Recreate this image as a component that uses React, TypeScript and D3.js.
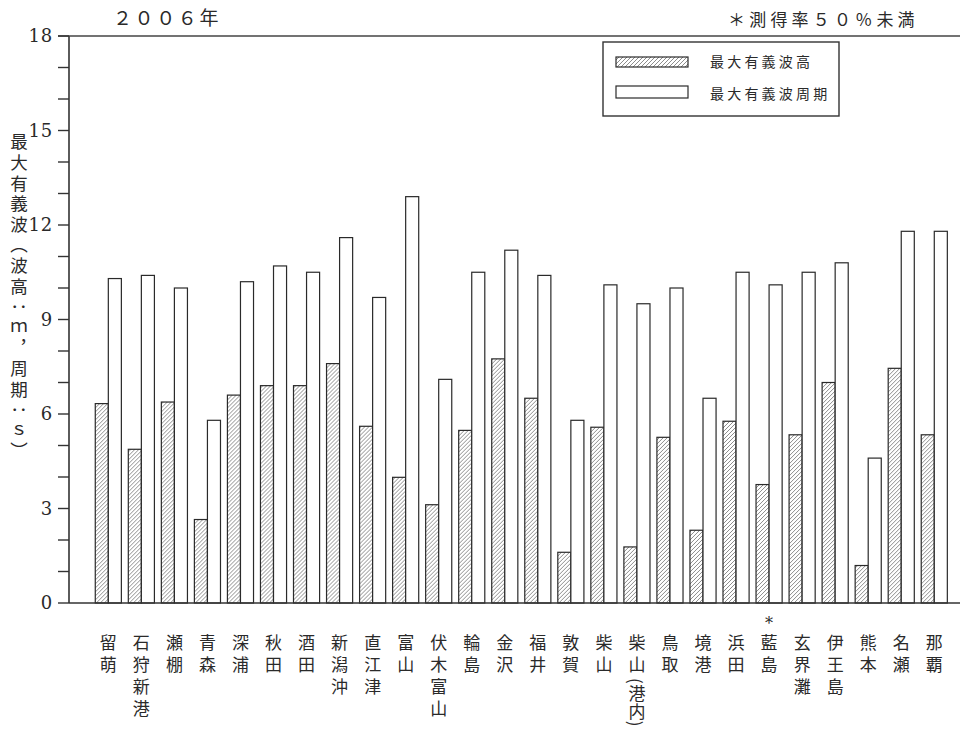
import React from 'react';
import * as d3 from 'd3';

const stations = ['留萌', '石狩新港', '瀬棚', '青森', '深浦', '秋田', '酒田', '新潟沖', '直江津', '富山', '伏木富山', '輪島', '金沢', '福井', '敦賀', '柴山', '柴山(港内)', '鳥取', '境港', '浜田', '藍島', '玄界灘', '伊王島', '熊本', '名瀬', '那覇'];
const waveHeight = [6.33, 4.88, 6.38, 2.65, 6.6, 6.9, 6.9, 7.6, 5.61, 3.99, 3.12, 5.48, 7.75, 6.5, 1.61, 5.58, 1.78, 5.26, 2.31, 5.77, 3.76, 5.34, 7.0, 1.19, 7.45, 5.34];
const wavePeriod = [10.3, 10.4, 10.0, 5.8, 10.2, 10.7, 10.5, 11.6, 9.7, 12.9, 7.1, 10.5, 11.2, 10.4, 5.8, 10.1, 9.5, 10.0, 6.5, 10.5, 10.1, 10.5, 10.8, 4.6, 11.8, 11.8];
const markedStations = ['藍島'];
const yTickLabels = [0, 3, 6, 9, 12, 15, 18];
const yMinorTicks = d3.range(0, 19, 1);
const seriesKeys = ['height', 'period'];
const seriesNames = ['最大有義波高', '最大有義波周期'];
const titleText = '２００６年';
const noteText = '＊測得率５０％未満';
const yAxisTitle = '最大有義波（波高：ｍ，周期：ｓ）';

const CJK = '"Noto Sans CJK JP", "Noto Sans CJK SC", sans-serif';
const SERIF = '"DejaVu Serif", serif';
const INK = '#2a2a2a';

export default function App() {
  const W = 960, H = 735;
  const left = 69, right = 960, top = 36, bottom = 603;
  const y = d3.scaleLinear().domain([0, 18]).range([bottom, top]);
  const x = d3.scaleBand<string>().domain(stations).range([91.8, 950.8]).paddingInner(0.21).paddingOuter(0.105);
  const x1 = d3.scaleBand<string>().domain(seriesKeys).range([0, x.bandwidth()]);

  const rows = stations.map((s, i) => ({ s, height: waveHeight[i], period: wavePeriod[i] }));

  return (
    <svg width={W} height={H} style={{ position: 'absolute', left: 0, top: 0, display: 'block', background: '#fff' }}>
      <defs>
        <pattern id="hatch" patternUnits="userSpaceOnUse" width={4} height={4}>
          <rect width={4} height={4} fill="#fff" />
          <path d="M-1,1 l2,-2 M0,4 l4,-4 M3,5 l2,-2" stroke="#808080" strokeWidth={0.9} />
        </pattern>
      </defs>
      <rect width={W} height={H} fill="#fff" />

      {/* title and note */}
      <text x={113} y={25} fontFamily={CJK} fontSize={19} fill={INK} style={{ letterSpacing: '2.6px' }}>{titleText}</text>
      <text x={728} y={26} fontFamily={CJK} fontSize={17} fill={INK} style={{ letterSpacing: '4.2px' }}>{noteText}</text>

      {/* bars */}
      {rows.map((r) => (
        <g key={r.s} transform={`translate(${x(r.s)},0)`}>
          <rect x={x1('height')} y={y(r.height)} width={x1.bandwidth()} height={y(0) - y(r.height)} fill="url(#hatch)" stroke={INK} strokeWidth={1.2} />
          <rect x={x1('period')} y={y(r.period)} width={x1.bandwidth()} height={y(0) - y(r.period)} fill="#fff" stroke={INK} strokeWidth={1.2} />
        </g>
      ))}

      {/* axes */}
      <line x1={left} x2={left} y1={top} y2={bottom} stroke="#333" strokeWidth={1.6} />
      <line x1={left} x2={right} y1={bottom} y2={bottom} stroke="#333" strokeWidth={1.6} />
      <line x1={left - 11} x2={right} y1={top} y2={top} stroke="#444" strokeWidth={1.6} />
      {yMinorTicks.map((t) => (
        <line key={t} x1={left - 11} x2={left} y1={y(t)} y2={y(t)} stroke="#333" strokeWidth={1.4} />
      ))}
      {yTickLabels.map((t) => (
        <text key={t} x={53} y={y(t)} dy="0.36em" textAnchor="end" fontFamily={SERIF} fontSize={18} fill={INK} style={{ letterSpacing: '0.8px' }}>{t}</text>
      ))}

      {/* y axis title */}
      <text x={19} y={133} fontFamily={CJK} fontSize={17.5} fill={INK} style={{ writingMode: 'vertical-rl', letterSpacing: '3.1px' } as any}>{yAxisTitle}</text>

      {/* x labels */}
      {stations.map((s) => {
        const cx = (x(s) as number) + x.bandwidth() / 2;
        const pi = s.indexOf('(');
        const head = pi >= 0 ? s.slice(0, pi) : s;
        const tail = pi >= 0 ? s.slice(pi) : '';
        return (
          <g key={s}>
            {markedStations.includes(s) && (
              <text x={cx} y={623} dy="0.35em" textAnchor="middle" fontFamily={SERIF} fontSize={16} fill={INK}>*</text>
            )}
            <text x={cx} y={634} fontFamily={CJK} fontSize={17} fill={INK} style={{ writingMode: 'vertical-rl' } as any}>
              <tspan style={{ letterSpacing: '5px' }}>{head}</tspan>
              {tail && <tspan style={{ letterSpacing: '1px' }}>{tail}</tspan>}
            </text>
          </g>
        );
      })}

      {/* legend */}
      <rect x={603} y={42} width={236} height={74} fill="#fff" stroke="#333" strokeWidth={1.4} />
      <rect x={616} y={57} width={72} height={10} fill="url(#hatch)" stroke={INK} strokeWidth={1.2} />
      <rect x={616} y={86} width={72} height={12} fill="#fff" stroke={INK} strokeWidth={1.2} />
      {seriesNames.map((n, i) => (
        <text key={n} x={710} y={62 + i * 32} dy="0.36em" fontFamily={CJK} fontSize={14} fill={INK} style={{ letterSpacing: '3.2px' }}>{n}</text>
      ))}
    </svg>
  );
}
